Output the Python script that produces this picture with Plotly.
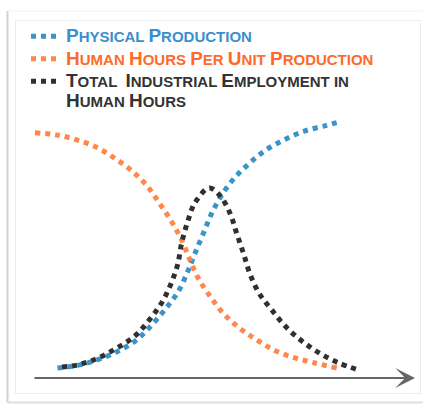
import plotly.graph_objects as go

# ---- data (conceptual time units 0-100, index 0-100) ----
phys_x = [6.4, 12.3, 17.5, 22.5, 27.1, 31.1, 34.8, 38.0, 40.5, 42.4, 44.6, 46.8, 49.4, 52.9, 56.8, 61.2, 66.2, 71.2, 76.4, 79.5]
phys_y = [3.7, 4.9, 7.1, 10.2, 14.2, 19.8, 26.0, 32.2, 39.7, 46.5, 54.0, 61.5, 68.3, 74.9, 80.3, 85.3, 89.2, 92.2, 94.1, 95.3]

hours_x = [0.5, 6.2, 11.6, 16.9, 21.7, 26.1, 30.0, 33.1, 36.3, 38.9, 40.9, 43.2, 46.3, 49.7, 53.9, 58.6, 63.4, 68.6, 73.8, 79.6]
hours_y = [91.5, 90.7, 88.8, 85.9, 81.7, 77.0, 71.4, 65.2, 58.3, 51.5, 44.7, 37.4, 30.6, 24.3, 18.8, 14.2, 10.2, 7.5, 5.6, 3.7]

empl_x = [7.6, 11.8, 17.0, 22.0, 26.7, 30.4, 33.7, 36.1, 37.9, 38.9, 40.4, 42.4, 46.1, 48.8, 51.6, 53.3, 55.1, 56.8, 59.2, 62.5, 66.2, 70.3, 74.9, 79.9, 85.2]
empl_y = [4.1, 4.9, 7.4, 11.2, 15.7, 21.6, 28.1, 35.1, 42.5, 50.3, 57.9, 65.4, 70.9, 68.3, 61.4, 54.0, 46.5, 38.8, 31.6, 25.4, 19.1, 13.9, 9.4, 5.7, 3.0]

def sc(word):
    # small-caps style: first letter large, rest small
    return '<span style="font-size:19px">' + word[0] + '</span>' + word[1:]

labels = [
    '<span style="color:#3b8fcc">' + sc("PHYSICAL") + ' ' + sc("PRODUCTION") + '</span>',
    '<span style="color:#ff6a2a">' + ' '.join(sc(w) for w in ["HUMAN", "HOURS", "PER", "UNIT", "PRODUCTION"]) + '</span>',
    '<span style="color:#333333">' + sc("TOTAL") + '  ' + sc("INDUSTRIAL") + ' ' + sc("EMPLOYMENT") + ' IN<br>'
    + sc("HUMAN") + ' ' + sc("HOURS") + '</span>',
]
colors = ["#3a94cc", "#ff874a", "#303030"]

W, H = 423, 405
L, R, T, B = 33, 8, 110, 27
pw, ph = W - L - R, H - T - B

def px2paper(x, y):
    return (x - L) / pw, (H - B - y) / ph

fig = go.Figure()
for xs, ys, lab, col in zip([phys_x, hours_x, empl_x], [phys_y, hours_y, empl_y], labels, colors):
    fig.add_trace(go.Scatter(x=xs, y=ys, mode="lines", name=lab,
                             line=dict(color=col, width=5, dash="dot", shape="spline", smoothing=1.0)))

shapes = []
# outer shadow frame
x0, y0 = px2paper(7.5, 11)
x1, y1 = px2paper(440, 402.5)
shapes.append(dict(type="line", xref="paper", yref="paper", x0=x0, x1=x0, y0=y1, y1=y0, line=dict(color="#d0d0d0", width=2)))
shapes.append(dict(type="line", xref="paper", yref="paper", x0=x0, x1=x1, y0=y1, y1=y1, line=dict(color="#dedede", width=2)))
shapes.append(dict(type="line", xref="paper", yref="paper", x0=x0, x1=x1, y0=y0, y1=y0, line=dict(color="#f2f2f2", width=1)))
# inner box
a0, b0 = px2paper(15.5, 20.5)
a1, b1 = px2paper(420.5, 393.5)
shapes.append(dict(type="rect", xref="paper", yref="paper", x0=a0, x1=a1, y0=b1, y1=b0, line=dict(color="#ececec", width=1)))

fig.update_layout(
    width=W, height=H, autosize=False,
    margin=dict(l=L, r=R, t=T, b=B, pad=0),
    paper_bgcolor="white", plot_bgcolor="white",
    xaxis=dict(range=[0, 100], visible=False, fixedrange=True),
    yaxis=dict(range=[0, 100], visible=False, fixedrange=True),
    showlegend=True,
    legend=dict(x=px2paper(26, 0)[0], y=px2paper(0, 20)[1], xanchor="left", yanchor="top",
                bgcolor="rgba(0,0,0,0)", borderwidth=0, valign="top",
                font=dict(family="Liberation Sans, Arial, sans-serif", size=15, weight="bold", color="#333333"),
                tracegroupgap=0, itemwidth=30),
    shapes=shapes,
    annotations=[dict(x=100, y=0, ax=0, ay=0, xref="x", yref="y", axref="x", ayref="y",
                      showarrow=True, arrowhead=3, arrowsize=1.65, arrowwidth=2, arrowcolor="#666666",
                      text="", standoff=0, startstandoff=0)],
)

fig.write_html("out.html")
